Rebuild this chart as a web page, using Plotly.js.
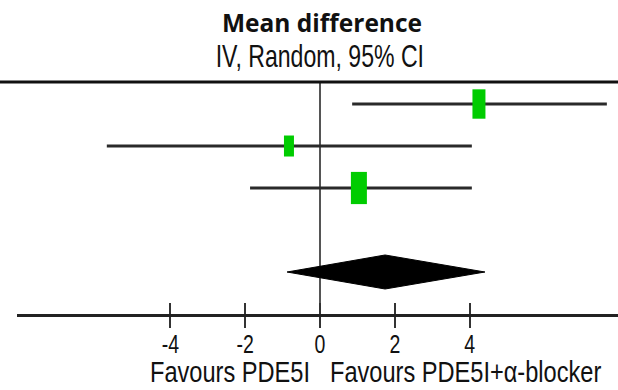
<!DOCTYPE html>
<html>
<head>
<meta charset="utf-8">
<script src="https://cdn.plot.ly/plotly-3.0.1.min.js"></script>
<style>html,body{margin:0;padding:0;background:#fff;}#chart{width:618px;height:390px;}</style>
</head>
<body>
<div id="chart"></div>
<script>
// ---- data ----
var studyRows   = [5, 4, 3];            // row index of each study (top to bottom)
var studyMean   = [4.25, -0.83, 1.04];
var studyLower  = [0.86, -5.70, -1.87];
var studyUpper  = [7.67, 4.06, 4.06];
var pooledRow   = 1;
var pooledMean  = 1.74;
var pooledLower = -0.88;
var pooledUpper = 4.41;
var tickValues  = [-4, -2, 0, 2, 4];
var tickLabels  = ['-4', '-2', '0', '2', '4'];
var titleLine1  = 'Mean difference';
var titleLine2  = 'IV, Random, 95% CI';
var leftLabel   = 'Favours PDE5I';
var rightLabel  = 'Favours PDE5I+α-blocker';

// ---- styles ----
var boxW = [13, 10, 16];   // marker widths (px)
var boxH = [21, 15, 23];   // marker heights (px)
var diamondHalf = 0.405;   // half height of pooled diamond in row units
var sansF = '"Liberation Sans", Arial, sans-serif';
var txtCol = '#111';

var traces = [];
traces.push({
  type: 'scatter', mode: 'markers', x: studyMean, y: studyRows,
  marker: {size: 1, color: 'rgba(0,0,0,0)'},
  error_x: {
    type: 'data', symmetric: false,
    array: studyUpper.map(function(u, i){ return u - studyMean[i]; }),
    arrayminus: studyLower.map(function(l, i){ return studyMean[i] - l; }),
    width: 0, thickness: 3, color: '#2a2a2a'
  },
  hoverinfo: 'skip', showlegend: false
});
for (var i = 0; i < studyMean.length; i++) {
  traces.push({
    type: 'scatter', mode: 'markers', x: [studyMean[i]], y: [studyRows[i]],
    marker: {symbol: 'line-ns', size: boxH[i],
             line: {width: boxW[i], color: 'rgb(0,204,0)'}},
    hoverinfo: 'skip', showlegend: false
  });
}
traces.push({
  type: 'scatter', mode: 'lines',
  x: [pooledLower, pooledMean, pooledUpper, pooledMean, pooledLower],
  y: [pooledRow, pooledRow + diamondHalf, pooledRow, pooledRow - diamondHalf, pooledRow],
  fill: 'toself', fillcolor: '#000', line: {color: '#000', width: 1},
  hoverinfo: 'skip', showlegend: false
});
traces.push({type: 'scatter', mode: 'markers', x: [0], y: [0], xaxis: 'x2', yaxis: 'y',
  marker: {size: 1, color: 'rgba(0,0,0,0)'}, hoverinfo: 'skip', showlegend: false});

var pxPerUnit = 37.4, zeroPx = 320, leftM = 17, W = 618, plotH = 232, axisPx = 314;
var xr = [-(zeroPx - leftM) / pxPerUnit, (W - zeroPx) / pxPerUnit];
function px2x(p){ return (p - leftM) / (W - leftM); }
function px2y(p){ return (axisPx - p) / plotH; }

var layout = {
  width: 618, height: 390,
  margin: {l: leftM, r: 0, t: 82, b: 76, pad: 0},
  paper_bgcolor: '#fff', plot_bgcolor: '#fff',
  showlegend: false,
  xaxis: {
    range: xr, showgrid: false,
    zeroline: true, zerolinecolor: '#555', zerolinewidth: 2,
    showline: true, linecolor: '#222', linewidth: 3,
    tickmode: 'array', tickvals: tickValues, ticktext: tickLabels,
    ticks: 'outside', ticklen: 11, tickwidth: 2, tickcolor: '#333',
    ticklabelstandoff: -6,
    tickfont: {family: sansF, size: 26, color: txtCol}
  },
  xaxis2: {
    range: xr, overlaying: 'x', anchor: 'y', side: 'bottom',
    showgrid: false, zeroline: false, showline: false,
    tickmode: 'array', tickvals: tickValues, showticklabels: false,
    ticks: 'inside', ticklen: 11, tickwidth: 2, tickcolor: '#333'
  },
  yaxis: {range: [0, 5.524], visible: false, zeroline: false, showgrid: false},
  shapes: [{
    type: 'line', xref: 'paper', yref: 'paper',
    x0: -leftM / (W - leftM), x1: 1, y0: 1, y1: 1,
    line: {color: '#111', width: 3}
  }],
  annotations: [
    {text: '<b>' + titleLine1 + '</b>', xref: 'paper', yref: 'paper',
     x: px2x(322), y: px2y(23), xanchor: 'center', yanchor: 'middle',
     showarrow: false, font: {family: '"Open Sans", Lato, sans-serif', size: 24.5, color: txtCol}},
    {text: titleLine2, xref: 'paper', yref: 'paper',
     x: px2x(320), y: px2y(57), xanchor: 'center', yanchor: 'middle',
     showarrow: false, font: {family: sansF, size: 31, color: txtCol}},
    {text: leftLabel, xref: 'paper', yref: 'paper',
     x: px2x(230), y: px2y(390), xanchor: 'center', yanchor: 'bottom',
     showarrow: false, font: {family: sansF, size: 29.5, color: txtCol}},
    {text: rightLabel, xref: 'paper', yref: 'paper',
     x: px2x(465), y: px2y(390), xanchor: 'center', yanchor: 'bottom',
     showarrow: false, font: {family: sansF, size: 29.5, color: txtCol}}
  ]
};

// condense narrow-font texts horizontally around their own centre
function condense(el, s) {
  var bb = el.getBBox();
  var cx = bb.x + bb.width / 2;
  var t = el.getAttribute('transform') || '';
  el.setAttribute('transform', (t + ' translate(' + cx + ',0) scale(' + s + ',1) translate(' + (-cx) + ',0)').trim());
}

Plotly.newPlot('chart', traces, layout, {staticPlot: true, displayModeBar: false}).then(function(gd){
  gd.querySelectorAll('.xtick text').forEach(function(el){ condense(el, 0.75); });
  gd.querySelectorAll('.annotation-text').forEach(function(el){
    var tx = el.textContent;
    if (tx === titleLine2) condense(el, 0.745);
    else if (tx === leftLabel || tx === rightLabel) condense(el, 0.80);
  });
});
</script>
</body>
</html>
